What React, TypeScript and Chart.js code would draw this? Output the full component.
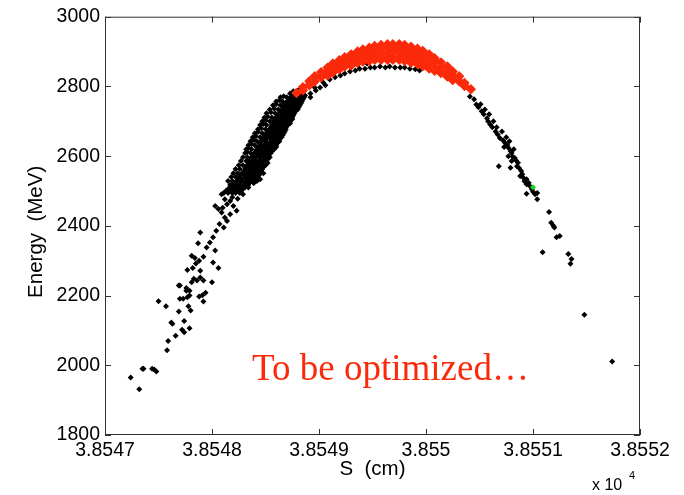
import React, { useEffect, useRef } from "react";
import { Chart, registerables } from "chart.js";

Chart.register(...registerables);

// S in cm, Energy in MeV
const xTicks = [38547, 38548, 38549, 38550, 38551, 38552];
const yTicks = [1800, 2000, 2200, 2400, 2600, 2800, 3000];
const xLabel = "S  (cm)";
const yLabel = "Energy  (MeV)";
const exponentBase = "x 10";
const exponentPower = "4";
const annotation = "To be optimized\u2026";

// sparse tail on the left
const blackLeftTail: [number, number][] = [
  [38547.24, 1965], [38547.32, 1931], [38547.35, 1990], [38547.36, 1990], [38547.44, 1990],
  [38547.46, 1988], [38547.48, 1982], [38547.58, 2043], [38547.59, 2070], [38547.66, 2085],
  [38547.72, 2102], [38547.74, 2095], [38547.79, 2106], [38547.62, 2123], [38547.63, 2119],
  [38547.74, 2127], [38547.69, 2154], [38547.57, 2169], [38547.50, 2184], [38547.70, 2191],
  [38547.78, 2169], [38547.80, 2157], [38547.77, 2195], [38547.79, 2214], [38547.76, 2222],
  [38547.88, 2197], [38547.91, 2201], [38547.94, 2208], [38547.92, 2183], [38547.69, 2229],
  [38547.81, 2238], [38548.00, 2238], [38547.70, 2229], [38547.76, 2214], [38547.79, 2200],
  [38547.73, 2191], [38547.83, 2248], [38547.86, 2243], [38547.89, 2252], [38547.92, 2243],
  [38547.77, 2273], [38547.82, 2279], [38547.85, 2292], [38547.89, 2271], [38548.06, 2279],
  [38548.01, 2295], [38547.81, 2314], [38547.84, 2308], [38547.88, 2300], [38547.92, 2311],
  [38547.87, 2350], [38547.89, 2381], [38547.95, 2338], [38547.98, 2352], [38548.01, 2367],
  [38548.03, 2329], [38548.04, 2386], [38548.07, 2405], [38548.11, 2395], [38548.14, 2414],
  [38548.03, 2457], [38548.06, 2448], [38548.09, 2438], [38548.12, 2424], [38548.17, 2433],
  [38548.09, 2491], [38548.12, 2476], [38548.17, 2471], [38548.20, 2457], [38548.23, 2443],
  [38548.17, 2510], [38548.20, 2519], [38548.25, 2514], [38548.29, 2491], [38548.34, 2510],
  [38548.39, 2524], [38548.14, 2462], [38548.19, 2482], [38548.24, 2478], [38548.10, 2452],
];

// dense rising band
const blackRisingBand: [number, number][] = [
  [38548.11, 2494], [38548.15, 2494], [38548.19, 2494], [38548.22, 2494], [38548.26, 2494],
  [38548.13, 2500], [38548.15, 2500], [38548.19, 2500], [38548.23, 2500], [38548.27, 2500],
  [38548.15, 2506], [38548.18, 2506], [38548.22, 2506], [38548.25, 2506], [38548.29, 2506],
  [38548.19, 2511], [38548.23, 2511], [38548.27, 2511], [38548.31, 2511],
  [38548.17, 2517], [38548.21, 2517], [38548.26, 2517], [38548.30, 2517], [38548.34, 2517],
  [38548.22, 2523], [38548.26, 2523], [38548.31, 2523], [38548.35, 2523], [38548.39, 2523],
  [38548.19, 2529], [38548.23, 2529], [38548.28, 2529], [38548.32, 2529], [38548.36, 2529], [38548.39, 2529], [38548.42, 2529],
  [38548.24, 2534], [38548.28, 2534], [38548.33, 2534], [38548.36, 2534], [38548.40, 2534], [38548.45, 2534],
  [38548.22, 2540], [38548.26, 2540], [38548.31, 2540], [38548.35, 2540], [38548.38, 2540], [38548.42, 2540],
  [38548.27, 2546], [38548.31, 2546], [38548.36, 2546], [38548.40, 2546], [38548.44, 2546],
  [38548.24, 2551], [38548.28, 2551], [38548.33, 2551], [38548.37, 2551], [38548.41, 2551], [38548.45, 2551], [38548.48, 2551],
  [38548.30, 2557], [38548.34, 2557], [38548.38, 2557], [38548.42, 2557], [38548.46, 2557],
  [38548.26, 2563], [38548.31, 2563], [38548.36, 2563], [38548.40, 2563], [38548.43, 2563], [38548.47, 2563],
  [38548.32, 2569], [38548.36, 2569], [38548.40, 2569], [38548.44, 2569], [38548.48, 2569],
  [38548.29, 2574], [38548.33, 2574], [38548.37, 2574], [38548.41, 2574], [38548.45, 2574], [38548.50, 2574],
  [38548.34, 2580], [38548.38, 2580], [38548.43, 2580], [38548.47, 2580], [38548.52, 2580],
  [38548.32, 2586], [38548.36, 2586], [38548.40, 2586], [38548.44, 2586], [38548.48, 2586], [38548.51, 2586],
  [38548.36, 2591], [38548.40, 2591], [38548.45, 2591], [38548.49, 2591], [38548.52, 2591],
  [38548.33, 2597], [38548.37, 2597], [38548.41, 2597], [38548.45, 2597], [38548.49, 2597], [38548.54, 2597],
  [38548.39, 2603], [38548.43, 2603], [38548.47, 2603], [38548.50, 2603], [38548.53, 2603],
  [38548.36, 2609], [38548.40, 2609], [38548.44, 2609], [38548.48, 2609], [38548.51, 2609], [38548.55, 2609],
  [38548.41, 2614], [38548.45, 2614], [38548.49, 2614], [38548.53, 2614], [38548.56, 2614],
  [38548.37, 2620], [38548.42, 2620], [38548.46, 2620], [38548.50, 2620], [38548.54, 2620], [38548.58, 2620],
  [38548.43, 2626], [38548.47, 2626], [38548.51, 2626], [38548.56, 2626], [38548.60, 2626],
  [38548.40, 2631], [38548.45, 2631], [38548.49, 2631], [38548.53, 2631], [38548.56, 2631], [38548.60, 2631],
  [38548.45, 2637], [38548.50, 2637], [38548.54, 2637], [38548.58, 2637], [38548.61, 2637],
  [38548.42, 2643], [38548.46, 2643], [38548.50, 2643], [38548.55, 2643], [38548.59, 2643], [38548.63, 2643],
  [38548.47, 2649], [38548.51, 2649], [38548.55, 2649], [38548.59, 2649], [38548.63, 2649],
  [38548.45, 2654], [38548.49, 2654], [38548.52, 2654], [38548.57, 2654], [38548.61, 2654], [38548.65, 2654],
  [38548.49, 2660], [38548.54, 2660], [38548.58, 2660], [38548.62, 2660], [38548.66, 2660],
  [38548.47, 2666], [38548.51, 2666], [38548.55, 2666], [38548.60, 2666], [38548.64, 2666], [38548.67, 2666],
  [38548.52, 2671], [38548.57, 2671], [38548.61, 2671], [38548.65, 2671], [38548.68, 2671],
  [38548.50, 2677], [38548.54, 2677], [38548.58, 2677], [38548.62, 2677], [38548.65, 2677], [38548.69, 2677],
  [38548.55, 2683], [38548.59, 2683], [38548.62, 2683], [38548.66, 2683], [38548.69, 2683],
  [38548.51, 2689], [38548.56, 2689], [38548.60, 2689], [38548.64, 2689], [38548.68, 2689], [38548.71, 2689],
  [38548.57, 2694], [38548.61, 2694], [38548.65, 2694], [38548.69, 2694], [38548.73, 2694],
  [38548.54, 2700], [38548.58, 2700], [38548.62, 2700], [38548.66, 2700], [38548.70, 2700], [38548.73, 2700],
  [38548.59, 2706], [38548.63, 2706], [38548.67, 2706], [38548.71, 2706], [38548.75, 2706],
  [38548.56, 2711], [38548.60, 2711], [38548.64, 2711], [38548.68, 2711], [38548.72, 2711], [38548.75, 2711],
  [38548.62, 2717], [38548.66, 2717], [38548.69, 2717], [38548.73, 2717], [38548.76, 2717],
  [38548.59, 2723], [38548.63, 2723], [38548.66, 2723], [38548.70, 2723], [38548.74, 2723], [38548.77, 2723],
  [38548.64, 2729], [38548.68, 2729], [38548.72, 2729], [38548.75, 2729], [38548.78, 2729],
  [38548.62, 2734], [38548.66, 2734], [38548.69, 2734], [38548.73, 2734], [38548.77, 2734], [38548.80, 2734],
  [38548.67, 2740], [38548.71, 2740], [38548.74, 2740], [38548.78, 2740], [38548.81, 2740],
  [38548.64, 2746], [38548.68, 2746], [38548.72, 2746], [38548.76, 2746], [38548.79, 2746], [38548.82, 2746],
  [38548.69, 2751], [38548.73, 2751], [38548.77, 2751], [38548.80, 2751], [38548.83, 2751],
  [38548.66, 2757], [38548.70, 2757], [38548.74, 2757], [38548.77, 2757], [38548.80, 2757], [38548.84, 2757],
  [38548.72, 2763], [38548.76, 2763], [38548.80, 2763], [38548.83, 2763], [38548.85, 2763],
  [38548.70, 2769], [38548.74, 2769], [38548.78, 2769], [38548.80, 2769], [38548.82, 2769], [38548.86, 2769],
  [38548.76, 2774], [38548.80, 2774], [38548.83, 2774], [38548.87, 2774],
  [38548.73, 2780], [38548.76, 2780], [38548.79, 2780], [38548.83, 2780],
  [38548.76, 2786], [38548.80, 2786], [38548.84, 2786],
  [38548.82, 2792], [38548.86, 2796], [38548.90, 2806], [38548.95, 2818], [38549.00, 2828],
];

// left (outer) edge of the rising band
const blackRisingEdge: [number, number][] = [
  [38548.15, 2529], [38548.18, 2540], [38548.20, 2551], [38548.22, 2563], [38548.25, 2574],
  [38548.27, 2586], [38548.29, 2597], [38548.31, 2609], [38548.33, 2612], [38548.32, 2620],
  [38548.34, 2623], [38548.34, 2631], [38548.37, 2634], [38548.36, 2643], [38548.39, 2646],
  [38548.38, 2654], [38548.41, 2657], [38548.40, 2666], [38548.43, 2669], [38548.43, 2677],
  [38548.46, 2680], [38548.45, 2689], [38548.48, 2692], [38548.47, 2700], [38548.50, 2703],
  [38548.49, 2711], [38548.52, 2714], [38548.51, 2723], [38548.55, 2726], [38548.54, 2734],
  [38548.58, 2737], [38548.57, 2746], [38548.60, 2749], [38548.60, 2757], [38548.63, 2760],
  [38548.64, 2769], [38548.67, 2772],
];

// black layer under the red cap
const blackUnderCap: [number, number][] = [
  [38548.92, 2780], [38548.92, 2769], [38548.97, 2788], [38549.01, 2797], [38549.06, 2803],
  [38549.10, 2820], [38549.15, 2826], [38549.20, 2831], [38549.24, 2837], [38549.29, 2843],
  [38549.34, 2846], [38549.38, 2851], [38549.43, 2851], [38549.48, 2854], [38549.52, 2854],
  [38549.57, 2857], [38549.62, 2854], [38549.66, 2857], [38549.71, 2854], [38549.76, 2854],
  [38549.80, 2854], [38549.85, 2851], [38549.90, 2849], [38549.94, 2846], [38550.41, 2771],
  [38549.36, 2862], [38549.45, 2866], [38548.96, 2797], [38549.04, 2811],
];

// falling band and tail on the right
const blackFallingBand: [number, number][] = [
  [38550.45, 2763], [38550.47, 2748], [38550.51, 2749], [38550.52, 2729], [38550.55, 2734],
  [38550.57, 2709], [38550.59, 2720], [38550.60, 2691], [38550.63, 2700], [38550.65, 2671],
  [38550.66, 2683], [38550.69, 2652], [38550.71, 2671], [38550.74, 2638], [38550.75, 2654],
  [38550.77, 2624], [38550.73, 2626], [38550.78, 2643], [38550.80, 2609], [38550.82, 2620],
  [38550.77, 2600], [38550.83, 2595], [38550.80, 2586], [38550.86, 2581], [38550.85, 2571],
  [38550.89, 2557], [38550.88, 2543], [38550.91, 2538], [38550.94, 2534], [38550.94, 2519],
  [38550.97, 2514], [38550.99, 2505], [38551.02, 2491], [38551.04, 2494], [38551.04, 2476],
  [38550.49, 2740], [38550.54, 2720], [38550.58, 2700], [38550.62, 2683], [38550.67, 2662],
  [38550.72, 2645], [38550.76, 2632], [38550.79, 2615], [38550.81, 2598], [38550.84, 2588],
  [38550.87, 2566], [38550.90, 2548], [38550.92, 2528], [38550.96, 2524], [38551.00, 2498],
  [38550.68, 2571], [38550.79, 2567], [38550.94, 2492],
  [38551.15, 2440], [38551.17, 2409], [38551.19, 2400], [38551.20, 2395], [38551.22, 2367],
  [38551.25, 2371], [38551.09, 2324], [38551.33, 2319], [38551.36, 2305], [38551.35, 2291],
  [38551.48, 2145], [38551.74, 2011],
];

// red (selected) particles at the top of the arc
const redPoints: [number, number][] = [
  [38548.79, 2781],
  [38548.85, 2798], [38548.85, 2789],
  [38548.91, 2815], [38548.91, 2803],
  [38548.96, 2829], [38548.96, 2814],
  [38549.02, 2841], [38549.02, 2826],
  [38549.08, 2854], [38549.08, 2843], [38549.08, 2831],
  [38549.13, 2866], [38549.13, 2854], [38549.13, 2840],
  [38549.19, 2875], [38549.19, 2863], [38549.19, 2849],
  [38549.24, 2884], [38549.24, 2871], [38549.24, 2857],
  [38549.30, 2892], [38549.30, 2880], [38549.30, 2866], [38549.30, 2860],
  [38549.36, 2900], [38549.36, 2889], [38549.36, 2874], [38549.36, 2868],
  [38549.41, 2906], [38549.41, 2894], [38549.41, 2880], [38549.41, 2871],
  [38549.47, 2911], [38549.47, 2900], [38549.47, 2886], [38549.47, 2873],
  [38549.52, 2916], [38549.52, 2905], [38549.52, 2891], [38549.52, 2876],
  [38549.58, 2919], [38549.58, 2908], [38549.58, 2894], [38549.58, 2880], [38549.58, 2876],
  [38549.64, 2921], [38549.64, 2909], [38549.64, 2897], [38549.64, 2883], [38549.64, 2876],
  [38549.69, 2921], [38549.69, 2909], [38549.69, 2897], [38549.69, 2883], [38549.69, 2876],
  [38549.75, 2921], [38549.75, 2909], [38549.75, 2897], [38549.75, 2883], [38549.75, 2876],
  [38549.80, 2919], [38549.80, 2907], [38549.80, 2894], [38549.80, 2880], [38549.80, 2873],
  [38549.86, 2914], [38549.86, 2902], [38549.86, 2889], [38549.86, 2874], [38549.86, 2868],
  [38549.92, 2908], [38549.92, 2896], [38549.92, 2883], [38549.92, 2869], [38549.92, 2864],
  [38549.97, 2902], [38549.97, 2890], [38549.97, 2877], [38549.97, 2863], [38549.97, 2858],
  [38550.03, 2892], [38550.03, 2880], [38550.03, 2866], [38550.03, 2851],
  [38550.08, 2881], [38550.08, 2869], [38550.08, 2854], [38550.08, 2845],
  [38550.14, 2869], [38550.14, 2857], [38550.14, 2843], [38550.14, 2838],
  [38550.20, 2857], [38550.20, 2845], [38550.20, 2828],
  [38550.25, 2843], [38550.25, 2831], [38550.25, 2818],
  [38550.31, 2829], [38550.31, 2815],
  [38550.36, 2810], [38550.36, 2801],
  [38550.42, 2792],
];

const greenPoints: [number, number][] = [[38551.0, 2511]];

const toXY = (pts: [number, number][]) => pts.map(([x, y]) => ({ x, y }));
const AXIS_FONT = '"Liberation Sans", Arial, Helvetica, sans-serif';

export default function App() {
  const ref = useRef<HTMLCanvasElement>(null);

  useEffect(() => {
    document.body.style.margin = "0";
    const canvas = ref.current;
    if (!canvas) return;

    const frame = {
      id: "matlabFrame",
      afterDraw(chart: any) {
        const { ctx, chartArea, scales } = chart;
        const { left, right, top, bottom } = chartArea;
        ctx.save();
        ctx.strokeStyle = "#333333";
        ctx.lineWidth = 1;
        ctx.strokeRect(left + 0.5, top + 0.5, right - left - 1, bottom - top - 1);
        ctx.beginPath();
        xTicks.forEach((v) => {
          const px = Math.round(scales.x.getPixelForValue(v)) + 0.5;
          ctx.moveTo(px, bottom);
          ctx.lineTo(px, bottom - 6);
          ctx.moveTo(px, top);
          ctx.lineTo(px, top + 6);
        });
        yTicks.forEach((v) => {
          const py = Math.round(scales.y.getPixelForValue(v)) + 0.5;
          ctx.moveTo(left, py);
          ctx.lineTo(left + 6, py);
          ctx.moveTo(right, py);
          ctx.lineTo(right - 6, py);
        });
        ctx.stroke();

        ctx.fillStyle = "#000";
        ctx.font = `20.5px ${AXIS_FONT}`;
        ctx.textAlign = "center";
        ctx.textBaseline = "middle";
        ctx.fillText(xLabel, (left + right) / 2, bottom + 34);

        ctx.save();
        ctx.translate(left - 69, (top + bottom) / 2 + 6);
        ctx.rotate(-Math.PI / 2);
        ctx.fillText(yLabel, 0, 0);
        ctx.restore();

        ctx.textAlign = "left";
        ctx.textBaseline = "alphabetic";
        ctx.font = `16px ${AXIS_FONT}`;
        ctx.fillText(exponentBase, right - 48, bottom + 55);
        ctx.font = `11px ${AXIS_FONT}`;
        ctx.fillText(exponentPower, right - 11, bottom + 44);

        ctx.fillStyle = "#fb2a0a";
        ctx.font = '37px "Liberation Serif", "Times New Roman", serif';
        ctx.fillText(annotation, left + 147, bottom - 55);
        ctx.restore();
      },
    };

    const marker = (color: string, r: number) => ({
      backgroundColor: color,
      borderColor: color,
      borderWidth: 0,
      pointStyle: "rectRot" as const,
      pointRadius: r,
      pointHoverRadius: r,
    });

    const chart = new Chart(canvas, {
      type: "scatter",
      data: {
        datasets: [
          { label: "green", data: toXY(greenPoints), order: 0, ...marker("#1ed21e", 3) },
          { label: "red", data: toXY(redPoints), order: 1, ...marker("#fb2a0a", 5.2) },
          {
            label: "black",
            data: toXY([
              ...blackLeftTail,
              ...blackRisingBand,
              ...blackRisingEdge,
              ...blackUnderCap,
              ...blackFallingBand,
            ]),
            order: 2,
            ...marker("#000000", 3),
          },
        ],
      },
      options: {
        responsive: false,
        maintainAspectRatio: false,
        animation: false,
        devicePixelRatio: 1,
        events: [],
        layout: { padding: { left: 0, right: 44, top: 15, bottom: 0 } },
        plugins: { legend: { display: false }, tooltip: { enabled: false } },
        scales: {
          x: {
            type: "linear",
            min: xTicks[0],
            max: xTicks[xTicks.length - 1],
            afterBuildTicks: (s: any) => {
              s.ticks = xTicks.map((value) => ({ value }));
            },
            afterFit: (s: any) => {
              s.height = 60;
            },
            grid: { display: false, drawTicks: false },
            border: { display: false },
            ticks: {
              autoSkip: false,
              maxRotation: 0,
              padding: 4,
              color: "#000",
              font: { family: AXIS_FONT, size: 19.5 },
              callback: (v: any) => parseFloat((Number(v) / 1e4).toFixed(5)).toString(),
            },
          },
          y: {
            type: "linear",
            min: yTicks[0],
            max: yTicks[yTicks.length - 1],
            afterBuildTicks: (s: any) => {
              s.ticks = yTicks.map((value) => ({ value }));
            },
            afterFit: (s: any) => {
              s.width = 105;
            },
            grid: { display: false, drawTicks: false },
            border: { display: false },
            ticks: {
              autoSkip: false,
              padding: 5,
              color: "#000",
              font: { family: AXIS_FONT, size: 19.5 },
              callback: (v: any) => String(v),
            },
          },
        },
      },
      plugins: [frame],
    });

    return () => chart.destroy();
  }, []);

  return (
    <div style={{ position: "absolute", left: 0, top: 0, width: 684, height: 495, background: "#fff" }}>
      <canvas ref={ref} width={684} height={495} style={{ display: "block" }} />
    </div>
  );
}
